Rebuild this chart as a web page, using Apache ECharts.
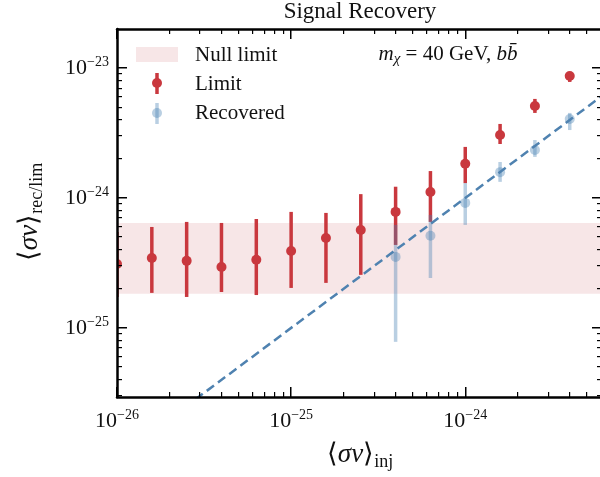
<!DOCTYPE html>
<html>
<head>
<meta charset="utf-8">
<script src="https://cdn.jsdelivr.net/npm/echarts@6/dist/echarts.min.js"></script>
<style>
  html, body { margin: 0; padding: 0; background: #fff; }
  #chart { width: 600px; height: 477px; }
</style>
</head>
<body>
<div id="chart"></div>
<script>
// injected cross-section, 0.2 dex steps
const injected = [1e-26, 1.585e-26, 2.512e-26, 3.981e-26, 6.31e-26, 1e-25, 1.585e-25,
  2.512e-25, 3.981e-25, 6.31e-25, 1e-24, 1.585e-24, 2.512e-24, 3.981e-24];
// limit (red) with error bar ends
const limitVal = [3.10e-25, 3.45e-25, 3.28e-25, 2.94e-25, 3.34e-25, 3.91e-25, 4.92e-25,
  5.67e-25, 7.81e-25, 1.11e-24, 1.83e-24, 3.05e-24, 5.10e-24, 8.68e-24];
const limitLo = [1.73e-25, 1.86e-25, 1.73e-25, 1.89e-25, 1.79e-25, 2.03e-25, 2.22e-25,
  2.56e-25, 4.35e-25, 6.54e-25, 1.30e-24, 2.60e-24, 4.51e-24, 7.81e-24];
const limitHi = [5.48e-25, 5.98e-25, 6.54e-25, 6.42e-25, 6.89e-25, 7.81e-25, 7.67e-25,
  1.07e-24, 1.22e-24, 1.61e-24, 2.47e-24, 3.71e-24, 5.78e-24, 9.31e-24];
// recovered (blue), only the upper injections
const recInjected = [3.981e-25, 6.31e-25, 1e-24, 1.585e-24, 2.512e-24, 3.981e-24];
const recVal = [3.52e-25, 5.11e-25, 9.16e-25, 1.58e-24, 2.34e-24, 4.05e-24];
const recLo = [7.81e-26, 2.42e-25, 6.20e-25, 1.33e-24, 2.07e-24, 3.33e-24];
const recHi = [6.20e-25, 7.40e-25, 1.30e-24, 1.89e-24, 2.79e-24, 4.51e-24];
// null limit band
const nullBand = [1.83e-25, 6.42e-25];
// axis ranges
const xRange = [1e-26, 6.1e-24];
const yRange = [2.94e-26, 1.995e-23];
const decades = [-26, -25, -24, -23];

// ECharts log scale rounds tiny numbers to 0, so plot in units of 1e-26
const UNIT = 1e-26;
const UNIT_EXP = -26;
function s(v) { return v / UNIT; }

const RED = '#c9383e';
const BLUE = 'rgba(70,130,180,0.38)';
const BAND = '#f7e6e7';
const serif = 'Liberation Serif';

var myChart = echarts.init(document.getElementById('chart'));

// tick positions (1..9 per decade), drawn inward on all four sides
const xTicks = [], yTicks = [];
decades.forEach(function (e) {
  for (let m = 1; m < 10; m++) {
    const v = m * Math.pow(10, e);
    if (v >= xRange[0] * 0.999 && v <= xRange[1]) xTicks.push([s(v), m === 1]);
    if (v >= yRange[0] && v <= yRange[1]) yTicks.push([s(v), m === 1]);
  }
});

function powLabel(v) {
  const e = Math.log10(v);
  if (Math.abs(e - Math.round(e)) > 1e-6) return '';
  return '{b|10}{s|\u2212' + Math.abs(Math.round(e) + UNIT_EXP) + '}';
}
const labelRich = {
  b: { fontFamily: serif, fontSize: 22, color: '#111', lineHeight: 26 },
  s: { fontFamily: serif, fontSize: 14, color: '#111', verticalAlign: 'top', lineHeight: 14 }
};

function errBar(color) {
  return function (params, api) {
    const p = api.coord([api.value(0), api.value(1)]);
    const lo = api.coord([api.value(0), api.value(2)]);
    const hi = api.coord([api.value(0), api.value(3)]);
    return {
      type: 'group',
      children: [
        { type: 'line', shape: { x1: lo[0], y1: lo[1], x2: hi[0], y2: hi[1] },
          style: { stroke: color, lineWidth: 3.5 } },
        { type: 'circle', shape: { cx: p[0], cy: p[1], r: 5 }, style: { fill: color } }
      ]
    };
  };
}

const axisLine = { show: true, lineStyle: { color: '#000', width: 2.5 } };
const logAxis = function (range, pos, showLabel) {
  return {
    type: 'log', logBase: 10, min: s(range[0]), max: s(range[1]), position: pos, z: 10,
    axisLine: axisLine, axisTick: { show: false }, splitLine: { show: false },
    axisLabel: showLabel ? {
      show: true, formatter: powLabel, rich: labelRich,
      showMinLabel: true, showMaxLabel: true, margin: pos === 'bottom' ? 11 : 8
    } : { show: false }
  };
};

const mathRich = function (size, subSize) {
  return {
    n: { fontFamily: serif, fontSize: size, lineHeight: size + 6, fill: '#111' },
    i: { fontFamily: serif, fontSize: size, lineHeight: size + 6, fontStyle: 'italic', fill: '#111' },
    sub: { fontFamily: serif, fontSize: subSize, lineHeight: subSize - 2, verticalAlign: 'bottom', fill: '#111' }
  };
};

// tick rectangles snapped to whole pixels so they stay crisp
function tickRect(x, y, w, h) {
  return { type: 'rect', shape: { x: Math.round(x), y: Math.round(y), width: w, height: h },
    style: { fill: '#000' } };
}

var option = {
  backgroundColor: '#fff',
  animation: false,
  grid: { left: 117, top: 29, width: 485, height: 368, outerBoundsMode: 'none' },
  xAxis: [logAxis(xRange, 'bottom', true), logAxis(xRange, 'top', false)],
  yAxis: [logAxis(yRange, 'left', true), logAxis(yRange, 'right', false)],
  graphic: [
    { type: 'text', x: 360, y: 12, style: { text: 'Signal Recovery', font: '23px "Liberation Serif"',
      fill: '#111', align: 'center', verticalAlign: 'middle' } },
    { type: 'text', x: 360, y: 455, style: {
      text: '{n|\u27E8}{i|\u03C3v}{n|\u27E9}{sub|inj}', align: 'center', verticalAlign: 'middle',
      rich: mathRich(27, 18) } },
    { type: 'text', x: 30, y: 212, rotation: Math.PI / 2, style: {
      text: '{n|\u27E8}{i|\u03C3v}{n|\u27E9}{sub|rec/lim}', align: 'center', verticalAlign: 'middle',
      rich: mathRich(27, 18) } },
    { type: 'text', x: 448, y: 54, style: {
      text: '{i|m}{sub|\u03C7}{n| = 40 GeV, }{i|b}{i|b\u0304}', align: 'center', verticalAlign: 'middle',
      rich: {
        n: { fontFamily: serif, fontSize: 21, lineHeight: 26, fill: '#111' },
        i: { fontFamily: serif, fontSize: 21, lineHeight: 26, fontStyle: 'italic', fill: '#111' },
        sub: { fontFamily: serif, fontSize: 15, lineHeight: 13, fontStyle: 'italic', verticalAlign: 'bottom', fill: '#111' }
      } } },
    // legend
    { type: 'rect', shape: { x: 136, y: 47, width: 42, height: 15 }, style: { fill: BAND } },
    { type: 'text', x: 195, y: 55, style: { text: 'Null limit', font: '21px "Liberation Serif"', fill: '#111', verticalAlign: 'middle' } },
    { type: 'line', shape: { x1: 157, y1: 73, x2: 157, y2: 94 }, style: { stroke: RED, lineWidth: 3.5 } },
    { type: 'circle', shape: { cx: 157, cy: 83, r: 5 }, style: { fill: RED } },
    { type: 'text', x: 195, y: 84, style: { text: 'Limit', font: '21px "Liberation Serif"', fill: '#111', verticalAlign: 'middle' } },
    { type: 'line', shape: { x1: 157, y1: 103, x2: 157, y2: 124 }, style: { stroke: BLUE, lineWidth: 3.5 } },
    { type: 'circle', shape: { cx: 157, cy: 113, r: 5 }, style: { fill: BLUE } },
    { type: 'text', x: 195, y: 113, style: { text: 'Recovered', font: '21px "Liberation Serif"', fill: '#111', verticalAlign: 'middle' } }
  ],
  series: [
    {
      name: 'Null limit', type: 'custom', z: 1, silent: true,
      data: [[s(xRange[0]), s(nullBand[0]), s(nullBand[1])]],
      renderItem: function (params, api) {
        const cs = params.coordSys;
        const top = api.coord([api.value(0), api.value(2)])[1];
        const bot = api.coord([api.value(0), api.value(1)])[1];
        return { type: 'rect', shape: { x: cs.x, y: top, width: cs.width, height: bot - top },
          style: { fill: BAND } };
      }
    },
    {
      name: 'Limit', type: 'custom', z: 2, clip: true, silent: true,
      data: injected.map(function (x, i) { return [s(x), s(limitVal[i]), s(limitLo[i]), s(limitHi[i])]; }),
      renderItem: errBar(RED)
    },
    {
      name: 'Recovered', type: 'custom', z: 3, clip: true, silent: true,
      data: recInjected.map(function (x, i) { return [s(x), s(recVal[i]), s(recLo[i]), s(recHi[i])]; }),
      renderItem: errBar(BLUE)
    },
    {
      name: 'Injected', type: 'line', z: 4, clip: true, silent: true, showSymbol: false,
      data: [[s(xRange[0]), s(xRange[0])], [s(xRange[1]), s(xRange[1])]],
      lineStyle: { color: '#4f82b0', width: 2.5, type: [9, 5] }
    },
    {
      // frame ticks, one data item renders them all
      name: 'frame ticks', type: 'custom', z: 5, silent: true,
      data: [[s(1e-25), s(1e-24)]],
      renderItem: function (params, api) {
        const cs = params.coordSys;
        const b = cs.y + cs.height, r = cs.x + cs.width;
        const kids = [];
        xTicks.forEach(function (t) {
          const x = api.coord([t[0], s(1e-24)])[0];
          const len = t[1] ? 10 : 5, w = t[1] ? 1.5 : 1.2;
          kids.push(tickRect(x - w / 2, b - len, w, len));
          kids.push(tickRect(x - w / 2, cs.y, w, len));
        });
        yTicks.forEach(function (t) {
          const y = api.coord([s(1e-25), t[0]])[1];
          const len = t[1] ? 10 : 5, w = t[1] ? 1.5 : 1.2;
          kids.push(tickRect(cs.x, y - w / 2, len, w));
          kids.push(tickRect(r - len, y - w / 2, len, w));
        });
        return { type: 'group', children: kids };
      }
    }
  ]
};
myChart.setOption(option);
</script>
</body>
</html>
